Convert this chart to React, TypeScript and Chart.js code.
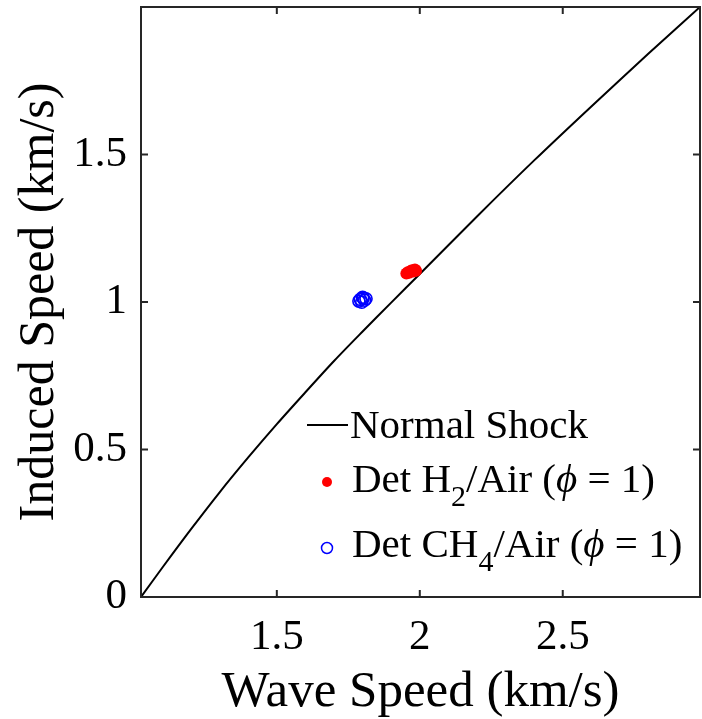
import React, { useEffect, useRef } from "react";
import { Chart, registerables } from "chart.js";

Chart.register(...registerables);

// ---- data ----
const waveSpeed = [1.025, 1.1, 1.2, 1.3, 1.4, 1.5, 1.6, 1.7, 1.8, 1.9, 2.0, 2.2, 2.4, 2.6, 2.8, 2.98];
const inducedSpeed = [0, 0.1, 0.23, 0.355, 0.473, 0.586, 0.694, 0.8, 0.9, 0.998, 1.095, 1.29, 1.48, 1.663, 1.842, 2.0];

const h2Wave = [1.953, 1.958, 1.963, 1.968, 1.973, 1.978, 1.983, 1.987];
const h2Induced = [1.097, 1.101, 1.099, 1.105, 1.108, 1.103, 1.11, 1.106];

const ch4Wave = [1.787, 1.792, 1.797, 1.802, 1.807, 1.812, 1.8];
const ch4Induced = [1.003, 1.009, 0.999, 1.013, 1.006, 1.011, 1.016];

const xTicks = [1.5, 2, 2.5];
const yTicks = [0, 0.5, 1, 1.5];
const xRange = [1.025, 2.98];
const yRange = [0, 2];

const xTitle = "Wave Speed (km/s)";
const yTitle = "Induced Speed (km/s)";

const FAM = "'Liberation Serif', 'Times New Roman', serif";

type Seg = { t: string; sub?: boolean; it?: boolean };

function drawRich(ctx: CanvasRenderingContext2D, segs: Seg[], x: number, y: number, size: number) {
  let cx = x;
  for (const s of segs) {
    const fs = s.sub ? Math.round(size * 0.73) : size;
    ctx.font = `${s.it ? "italic " : ""}${fs}px ${FAM}`;
    const yy = s.sub ? y + 14 : y;
    ctx.fillText(s.t, cx, yy);
    cx += ctx.measureText(s.t).width;
  }
}

const zeroPad = (s: any) => {
  s.paddingTop = 0;
  s.paddingBottom = 0;
  s.paddingLeft = 0;
  s.paddingRight = 0;
};

const boxPlugin = {
  id: "matlabBox",
  afterDraw(chart: any) {
    const { ctx, chartArea: a, scales } = chart;
    ctx.save();
    ctx.strokeStyle = "#262626";
    ctx.lineWidth = 2;
    ctx.strokeRect(a.left, a.top, a.right - a.left, a.bottom - a.top);
    const tl = 7;
    ctx.beginPath();
    for (const v of xTicks) {
      const px = scales.x.getPixelForValue(v);
      ctx.moveTo(px, a.bottom);
      ctx.lineTo(px, a.bottom - tl);
      ctx.moveTo(px, a.top);
      ctx.lineTo(px, a.top + tl);
    }
    for (const v of yTicks) {
      if (v === yRange[0]) continue;
      const py = scales.y.getPixelForValue(v);
      ctx.moveTo(a.left, py);
      ctx.lineTo(a.left + tl, py);
      ctx.moveTo(a.right, py);
      ctx.lineTo(a.right - tl, py);
    }
    ctx.stroke();

    // legend (no box, MATLAB style)
    const lx = a.left + 166;
    ctx.fillStyle = "#000";
    ctx.textBaseline = "alphabetic";
    ctx.textAlign = "left";
    ctx.strokeStyle = "#000";
    ctx.lineWidth = 2;
    ctx.beginPath();
    ctx.moveTo(lx, 425);
    ctx.lineTo(lx + 41, 425);
    ctx.stroke();
    drawRich(ctx, [{ t: "Normal Shock" }], lx + 43, 438, 41);

    ctx.fillStyle = "#ff0000";
    ctx.beginPath();
    ctx.arc(lx + 20, 482, 5, 0, Math.PI * 2);
    ctx.fill();
    ctx.fillStyle = "#000";
    drawRich(
      ctx,
      [{ t: "Det H" }, { t: "2", sub: true }, { t: "/Air (" }, { t: "ϕ", it: true }, { t: " = 1)" }],
      lx + 45,
      492,
      41
    );

    ctx.strokeStyle = "#0000ff";
    ctx.lineWidth = 1.5;
    ctx.beginPath();
    ctx.arc(lx + 20, 548, 5.5, 0, Math.PI * 2);
    ctx.stroke();
    ctx.fillStyle = "#000";
    drawRich(
      ctx,
      [{ t: "Det CH" }, { t: "4", sub: true }, { t: "/Air (" }, { t: "ϕ", it: true }, { t: " = 1)" }],
      lx + 45,
      557,
      41
    );
    ctx.restore();
  },
};

export default function App() {
  const ref = useRef<HTMLCanvasElement | null>(null);
  useEffect(() => {
    if (!ref.current) return;
    const chart = new Chart(ref.current, {
      type: "scatter",
      data: {
        datasets: [
          {
            label: "Normal Shock",
            data: waveSpeed.map((x, i) => ({ x, y: inducedSpeed[i] })),
            showLine: true,
            borderColor: "#000",
            borderWidth: 2,
            pointRadius: 0,
            tension: 0.3,
            order: 3,
          },
          {
            label: "Det H2/Air",
            data: h2Wave.map((x, i) => ({ x, y: h2Induced[i] })),
            backgroundColor: "#ff0000",
            borderColor: "#ff0000",
            borderWidth: 0,
            pointRadius: 6,
            order: 2,
          },
          {
            label: "Det CH4/Air",
            data: ch4Wave.map((x, i) => ({ x, y: ch4Induced[i] })),
            backgroundColor: "rgba(0,0,0,0)",
            borderColor: "#0000ff",
            borderWidth: 1.6,
            pointRadius: 6,
            order: 1,
          },
        ],
      },
      options: {
        animation: false,
        responsive: false,
        layout: { autoPadding: false, padding: { top: 7, right: 2, left: 0, bottom: 0 } },
        plugins: { legend: { display: false }, tooltip: { enabled: false } },
        scales: {
          x: {
            type: "linear",
            min: xRange[0],
            max: xRange[1],
            grid: { display: false, drawTicks: false },
            border: { display: false },
            afterBuildTicks: (s: any) => {
              s.ticks = xTicks.map((v) => ({ value: v }));
            },
            afterFit: (s: any) => {
              s.height = 122;
              zeroPad(s);
            },
            ticks: {
              color: "#000",
              padding: 19,
              maxRotation: 0,
              font: { family: FAM, size: 43, lineHeight: 1 },
              callback: (v: any) => String(v),
            },
            title: {
              display: true,
              text: xTitle,
              color: "#000",
              font: { family: FAM, size: 51, lineHeight: 1 },
              padding: { top: 0, bottom: 1 },
            },
          },
          y: {
            type: "linear",
            min: yRange[0],
            max: yRange[1],
            grid: { display: false, drawTicks: false },
            border: { display: false },
            afterBuildTicks: (s: any) => {
              s.ticks = yTicks.map((v) => ({ value: v }));
            },
            afterFit: (s: any) => {
              s.width = 141;
              zeroPad(s);
            },
            ticks: {
              color: "#000",
              padding: 14,
              font: { family: FAM, size: 43, lineHeight: 1 },
              callback: (v: any) => String(v),
            },
            title: {
              display: true,
              text: yTitle,
              color: "#000",
              font: { family: FAM, size: 50, lineHeight: 1 },
              padding: { top: 15, bottom: 0 },
            },
          },
        },
      },
      plugins: [boxPlugin],
    });
    return () => chart.destroy();
  }, []);

  return (
    <div style={{ position: "absolute", left: 0, top: 0, width: 702, height: 719, background: "#fff" }}>
      <canvas ref={ref} width={702} height={719} style={{ display: "block" }} />
    </div>
  );
}
